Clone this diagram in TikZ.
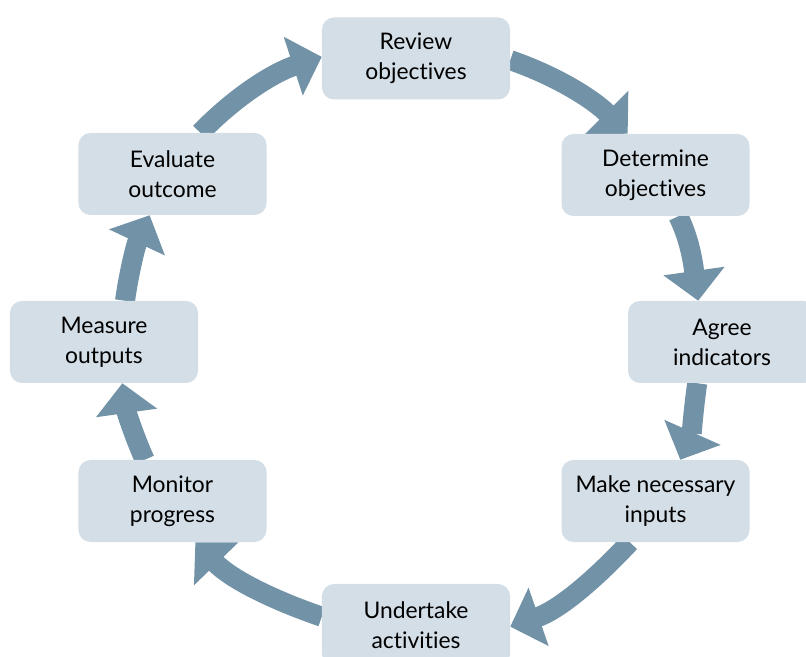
\documentclass[tikz,border=0pt]{standalone}
\usepackage{fontspec}
\setmainfont{Lato}[Ligatures=NoCommon]
\usetikzlibrary{arrows.meta,backgrounds}
\definecolor{boxfill}{RGB}{211,222,230}
\definecolor{arrowblue}{RGB}{114,147,167}

\begin{document}
\begin{tikzpicture}[x=0.03cm,y=0.03cm,
    stage/.style={fill=boxfill,rounded corners=0.36cm,minimum width=5.64cm,
        minimum height=2.46cm,inner sep=0pt,align=center,
        font=\fontsize{19.5}{25.5}\selectfont},
    cyclearrow/.style={draw=arrowblue,line width=0.6cm,looseness=0.9,
        -{Triangle[width=1.8cm,length=0.9cm]}}]
    \useasboundingbox (0,0) rectangle (806,-657);
    \clip (0,0) rectangle (806,-657);

    % the eight stages, clockwise from the top
    \node[stage] (review)    at (416,-58.5)  {Review\\objectives};
    \node[stage] (determine) at (655.5,-175) {Determine\\objectives};
    \node[stage] (agree)     at (722,-342)   {Agree\\indicators};
    \node[stage] (inputs)    at (655.5,-501) {Make necessary\\inputs};
    \node[stage] (undertake) at (416,-625)   {Undertake\\activities};
    \node[stage] (monitor)   at (172.5,-501) {Monitor\\progress};
    \node[stage] (measure)   at (104,-342)   {Measure\\outputs};
    \node[stage] (evaluate)  at (172.5,-174) {Evaluate\\outcome};

    % curved arrows behind the boxes
    \begin{pgfonlayer}{background}
        \foreach \a/\sa/\b/\eb/\o/\i in {review/-1/determine/124/-19/135,
                determine/-61/agree/120/-64/98,
                agree/-121/inputs/59/-98/66,
                inputs/-122/undertake/-1/-133/19,
                undertake/175/monitor/-61/161/-46,
                monitor/124/measure/-66/114/-82,
                measure/63/evaluate/-119/82/-115,
                evaluate/56/review/179/46/-162}{
            \draw[cyclearrow] (\a.\sa) to[out=\o,in=\i] (\b.\eb);
        }
    \end{pgfonlayer}
\end{tikzpicture}
\end{document}
